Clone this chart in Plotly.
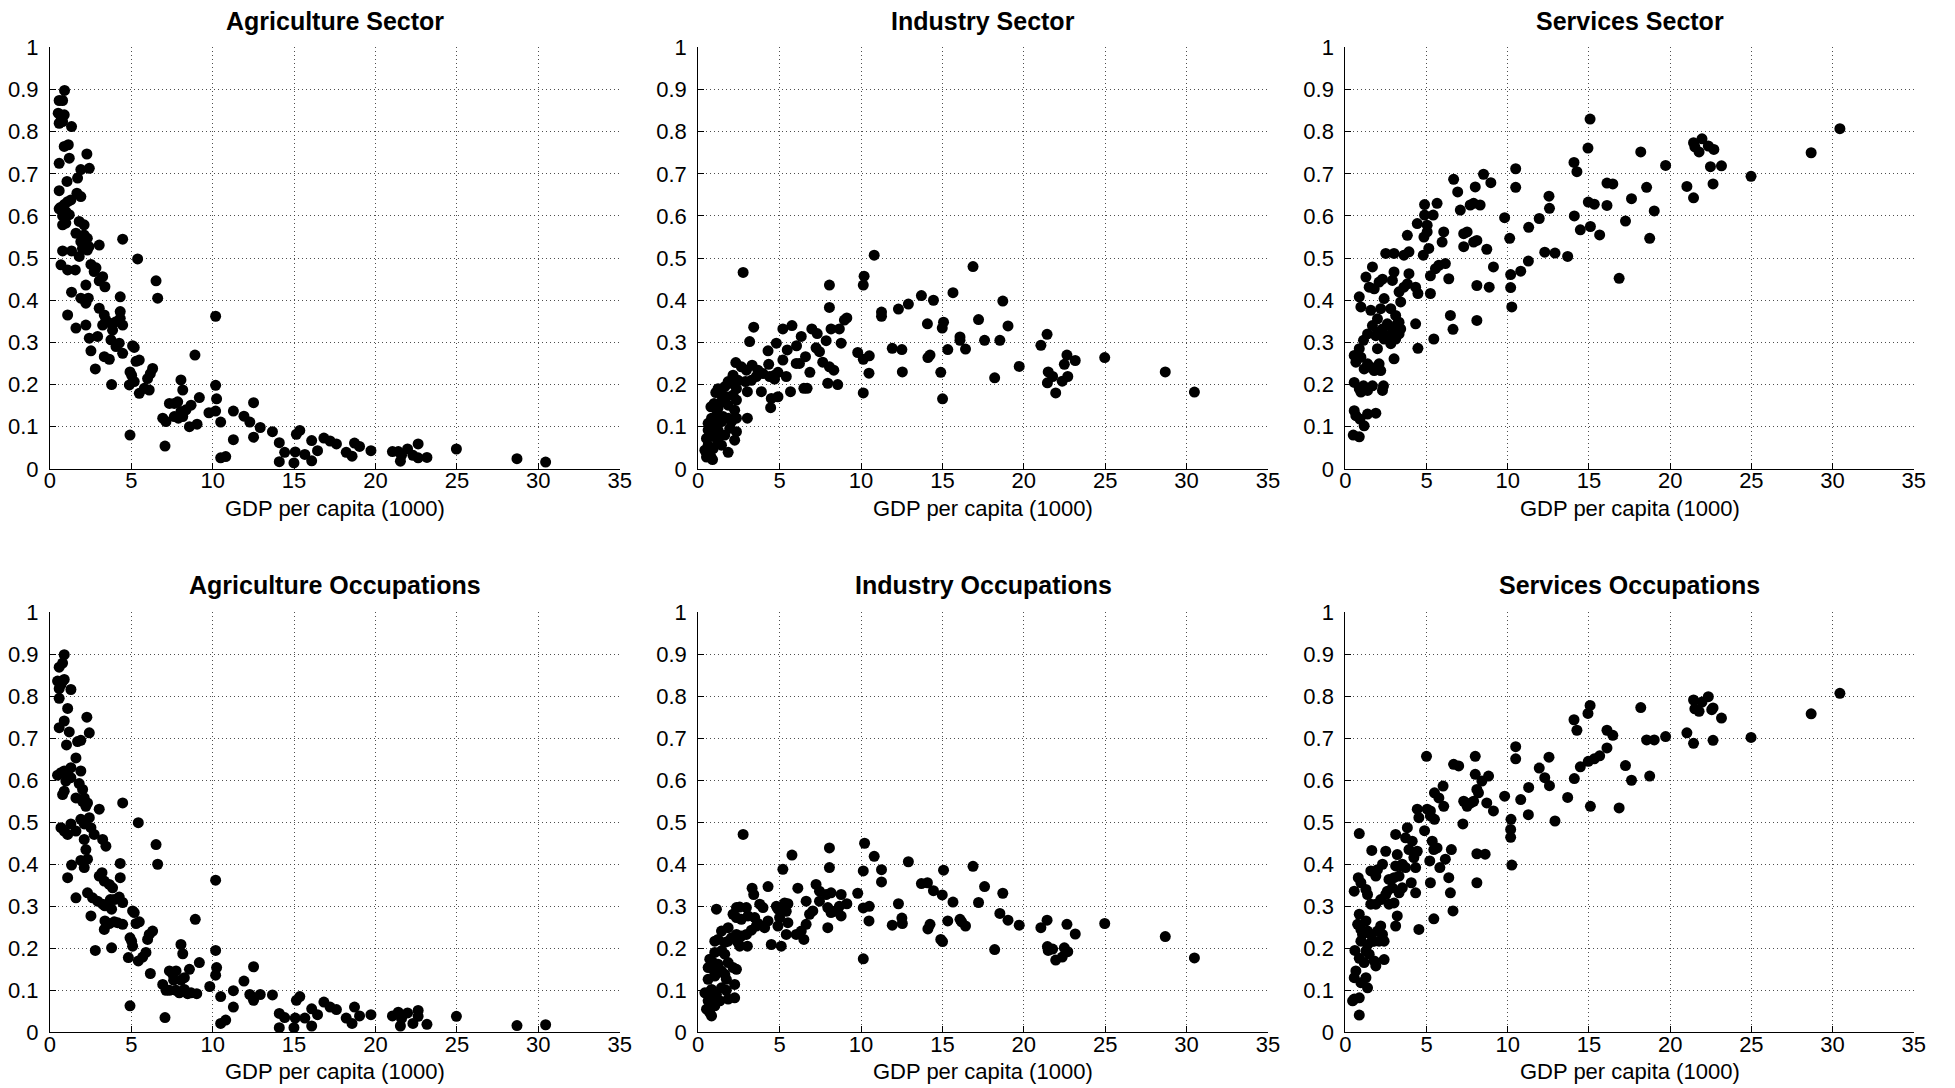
import plotly.graph_objects as go

# ---------------- data: (GDP per capita in 1000s, share) ----------------
agr_sector = [
    (0.9,0.898),(0.57,0.874),(0.78,0.874),(0.51,0.844),(0.88,0.84),(0.68,0.836),(0.57,0.82),(0.78,0.824),
    (1.33,0.812),(0.88,0.765),(1.13,0.769),(1.19,0.737),(0.57,0.725),(2.27,0.747),(1.9,0.71),(2.42,0.713),
    (1.05,0.682),(1.7,0.69),(0.57,0.66),(1.66,0.654),(1.9,0.646),(0.64,0.62),(0.88,0.627),(1.09,0.634),
    (1.29,0.638),(0.98,0.61),(1.19,0.603),(0.78,0.6),(0.57,0.617),(0.78,0.579),(0.98,0.583),(1.8,0.587),
    (2.1,0.579),(1.6,0.559),(2.1,0.555),(2.3,0.547),(1.9,0.539),(2.2,0.535),(2.4,0.527),(2.0,0.523),
    (2.3,0.519),(3.03,0.531),(4.47,0.545),(0.78,0.517),(1.33,0.517),(1.8,0.504),(0.68,0.484),(1.09,0.472),
    (1.56,0.472),(2.52,0.485),(2.83,0.477),(2.72,0.468),(3.24,0.456),(3.03,0.446),(3.38,0.432),(2.21,0.436),
    (5.39,0.498),(6.52,0.446),(6.62,0.405),(1.33,0.419),(1.9,0.405),(2.36,0.405),(4.32,0.408),(2.21,0.393),
    (3.03,0.381),(4.32,0.373),(4.32,0.357),(3.34,0.365),(3.44,0.353),(3.75,0.345),(4.06,0.349),(4.47,0.341),
    (3.24,0.341),(2.21,0.341),(1.09,0.365),(1.6,0.334),(3.85,0.329),(2.42,0.31),(2.93,0.314),(3.75,0.306),
    (4.26,0.298),(4.06,0.29),(5.08,0.292),(5.18,0.288),(2.52,0.28),(3.34,0.266),(3.65,0.26),(4.47,0.274),
    (5.29,0.255),(5.49,0.258),(2.79,0.237),(6.31,0.238),(6.17,0.226),(6.0,0.214),(4.92,0.23),(5.02,0.222),
    (4.88,0.199),(5.18,0.207),(3.79,0.2),(5.49,0.179),(5.8,0.191),(6.1,0.187),(8.05,0.211),(8.16,0.187),
    (8.91,0.27),(9.18,0.169),(7.34,0.155),(7.64,0.155),(7.85,0.159),(8.05,0.136),(8.36,0.14),(8.67,0.151),
    (7.64,0.124),(7.89,0.12),(8.16,0.124),(6.93,0.12),(7.13,0.112),(8.57,0.1),(9.04,0.106),(4.92,0.08),
    (7.07,0.054),
    (10.18,0.362),(9.77,0.133),(10.18,0.198),(10.24,0.166),(10.18,0.137),(10.49,0.111),(10.49,0.026),
    (10.8,0.029),(11.27,0.137),(11.27,0.069),(11.92,0.125),(12.28,0.111),(12.51,0.157),(12.51,0.075),
    (12.92,0.098),(13.67,0.088),(14.09,0.062),(14.09,0.017),(14.42,0.039),(14.99,0.014),(15.07,0.04),
    (15.14,0.082),(15.35,0.091),(15.66,0.034),(16.08,0.067),(16.08,0.019),(16.44,0.043),(16.83,0.073),
    (17.21,0.066),(17.6,0.059),(18.2,0.039),(18.56,0.03),(18.71,0.061),(19.02,0.053),(19.72,0.043),
    (21.04,0.041),(21.4,0.041),(21.53,0.018),(21.6,0.032),(21.97,0.047),(22.3,0.032),(22.62,0.059),
    (22.62,0.026),(23.16,0.027),(24.97,0.047),(28.69,0.024),(30.45,0.016),
]

ind_sector = [
    (2.76,0.466),(8.06,0.436),(8.06,0.383),(3.41,0.336),(3.16,0.302),(5.2,0.332),(5.76,0.34),(6.98,0.332),
    (7.31,0.321),(8.16,0.332),(8.67,0.332),(8.98,0.353),(6.33,0.314),(7.86,0.304),(4.8,0.298),(5.47,0.282),
    (6.04,0.292),(4.29,0.28),(7.24,0.287),(7.45,0.278),(8.78,0.298),(6.59,0.266),(5.2,0.258),(4.33,0.248),
    (6.02,0.25),(6.22,0.25),(7.65,0.253),(8.06,0.242),(8.33,0.234),(6.86,0.229),(2.31,0.252),(2.65,0.242),
    (2.96,0.234),(3.31,0.246),(3.67,0.234),(3.98,0.226),(4.9,0.229),(4.69,0.222),(4.39,0.219),(4.69,0.213),
    (5.41,0.219),(3.57,0.219),(3.27,0.21),(2.9,0.207),(2.45,0.21),(2.14,0.222),(1.94,0.203),(2.35,0.19),
    (3.88,0.183),(3.02,0.183),(4.49,0.167),(4.9,0.171),(5.67,0.183),(6.49,0.191),(6.69,0.191),(7.96,0.203),
    (8.57,0.2),(4.45,0.145),(3.02,0.12),
    (1.63,0.195),(1.84,0.207),(1.22,0.19),(1.08,0.181),(1.43,0.175),(1.73,0.171),(2.14,0.175),(2.35,0.163),
    (1.43,0.159),(0.78,0.147),(0.98,0.155),(1.22,0.144),(1.84,0.151),(2.24,0.139),(1.12,0.127),(0.82,0.12),
    (1.53,0.124),(1.84,0.12),(2.35,0.12),(0.61,0.108),(0.98,0.104),(1.43,0.112),(2.04,0.112),(1.94,0.096),
    (2.35,0.088),(1.22,0.092),(0.61,0.092),(0.51,0.072),(1.02,0.076),(1.63,0.08),(2.24,0.068),(0.61,0.056),
    (0.92,0.048),(1.22,0.064),(0.41,0.044),(0.51,0.028),(0.78,0.028),(1.84,0.039),(1.43,0.056),(0.88,0.022),
    (9.13,0.358),(9.8,0.276),(10.14,0.26),(10.51,0.268),(10.14,0.18),(10.19,0.457),(10.14,0.436),(10.49,0.227),
    (10.81,0.507),(11.26,0.372),(11.26,0.362),(11.92,0.286),(12.3,0.379),(12.51,0.283),(12.54,0.23),
    (12.91,0.391),(13.71,0.411),(14.08,0.344),(14.11,0.264),(14.24,0.27),(14.45,0.4),(14.9,0.229),
    (15.01,0.166),(14.99,0.334),(15.07,0.348),(15.33,0.283),(15.65,0.418),(16.08,0.313),(16.08,0.305),
    (16.42,0.284),(16.88,0.48),(17.22,0.354),(17.59,0.305),(18.21,0.216),(18.53,0.305),(18.71,0.398),
    (19.03,0.339),(19.72,0.243),(21.05,0.293),(21.43,0.319),(21.45,0.204),(21.5,0.23),(21.77,0.219),
    (21.96,0.18),(22.36,0.208),(22.49,0.248),(22.65,0.27),(22.7,0.219),(23.16,0.257),(24.97,0.264),
    (28.69,0.23),(30.48,0.182),
]

serv_sector = [
    (0.49,0.08),(0.86,0.076),(0.55,0.138),(0.65,0.126),(0.9,0.118),(1.16,0.102),(1.37,0.13),(1.88,0.132),
    (0.55,0.205),(0.96,0.182),(0.86,0.19),(1.37,0.186),(1.12,0.197),(2.29,0.186),(2.35,0.197),(1.67,0.197),
    (0.55,0.269),(0.65,0.253),(0.86,0.285),(0.96,0.265),(1.16,0.237),(1.37,0.249),(1.57,0.241),(1.78,0.233),
    (2.08,0.249),(2.18,0.233),(1.98,0.285),(3.0,0.261),(1.12,0.305),(1.37,0.32),(1.88,0.316),(1.98,0.324),
    (1.67,0.34),(2.39,0.308),(2.69,0.316),(2.8,0.297),(3.1,0.308),(3.31,0.32),(3.41,0.332),(3.2,0.344),
    (2.29,0.332),(2.59,0.344),(2.9,0.332),(1.98,0.356),(2.18,0.38),(2.39,0.404),(2.8,0.38),(3.1,0.364),
    (3.31,0.348),(3.31,0.42),(3.61,0.431),(3.82,0.439),(3.41,0.396),(0.86,0.408),(0.96,0.384),(1.57,0.376),
    (1.27,0.455),(1.67,0.479),(1.47,0.431),(1.78,0.427),(2.08,0.443),(2.29,0.45),(2.49,0.511),(3.0,0.511),
    (3.61,0.507),(3.92,0.515),(3.82,0.554),(4.43,0.582),(3.92,0.463),(4.33,0.431),(4.47,0.416),(4.33,0.344),
    (4.47,0.286),(3.0,0.467),(2.9,0.447),(4.88,0.627),(4.88,0.602),(4.84,0.55),(4.8,0.507),(5.04,0.578),
    (5.04,0.562),(5.14,0.523),(5.24,0.458),(5.24,0.416),(5.45,0.308),(5.41,0.602),(5.65,0.63),(6.06,0.562),
    (5.96,0.538),(5.55,0.475),(5.76,0.483),(6.16,0.487),(6.37,0.451),(6.47,0.364),(6.63,0.331),(6.67,0.687),
    (6.92,0.657),(7.08,0.614),(7.29,0.558),(7.5,0.562),(7.29,0.527),(7.69,0.626),(7.9,0.63),(8.0,0.669),
    (7.9,0.538),(8.1,0.542),(8.1,0.435),(8.1,0.352),(8.3,0.626),(8.51,0.699),(8.71,0.521),(8.96,0.679),
    (8.86,0.431),(9.12,0.479),
    (9.81,0.596),(10.12,0.547),(10.18,0.461),(10.18,0.43),(10.25,0.384),(10.49,0.712),(10.49,0.668),
    (10.8,0.469),(11.27,0.493),(11.29,0.573),(11.94,0.594),(12.28,0.514),(12.54,0.647),(12.57,0.618),
    (12.91,0.512),(13.69,0.504),(14.08,0.727),(14.1,0.6),(14.26,0.705),(14.47,0.567),(14.94,0.761),
    (15.07,0.83),(14.96,0.633),(15.09,0.575),(15.33,0.628),(15.66,0.555),(16.11,0.625),(16.11,0.678),
    (16.47,0.676),(16.86,0.452),(17.25,0.588),(17.62,0.641),(18.19,0.752),(18.55,0.668),(18.74,0.547),
    (19.02,0.612),(19.72,0.72),(21.03,0.67),(21.44,0.774),(21.52,0.764),(21.44,0.643),(21.78,0.752),
    (21.96,0.783),(22.35,0.766),(22.69,0.758),(22.48,0.717),(22.64,0.676),(23.16,0.719),(24.98,0.694),
    (28.68,0.75),(30.45,0.807),
]

agr_occup = [
    (0.88,0.899),(0.78,0.879),(0.57,0.869),(0.47,0.836),(0.78,0.836),(0.88,0.84),(0.57,0.818),(0.68,0.828),
    (1.29,0.816),(0.57,0.795),(1.09,0.771),(0.88,0.741),(0.57,0.725),(2.27,0.75),(2.42,0.713),(1.19,0.715),
    (1.02,0.684),(1.7,0.692),(1.9,0.695),(1.6,0.653),(0.47,0.612),(0.68,0.618),(0.88,0.622),(1.09,0.618),
    (1.29,0.63),(0.98,0.598),(1.29,0.606),(1.9,0.622),(0.78,0.566),(0.88,0.574),(1.8,0.592),(2.01,0.578),
    (2.11,0.558),(1.6,0.558),(2.0,0.55),(2.31,0.546),(2.21,0.538),(3.03,0.531),(4.47,0.546),(2.42,0.511),
    (1.9,0.507),(2.11,0.496),(1.29,0.496),(0.68,0.487),(0.88,0.479),(1.09,0.471),(1.6,0.479),(2.52,0.487),
    (2.72,0.471),(5.43,0.499),(3.24,0.459),(3.44,0.443),(2.11,0.459),(2.21,0.435),(6.52,0.447),(6.62,0.4),
    (4.32,0.402),(1.33,0.398),(1.9,0.409),(2.31,0.412),(2.11,0.392),(3.03,0.372),(3.2,0.38),(3.34,0.36),
    (3.65,0.352),(3.85,0.344),(4.32,0.368),(1.09,0.368),(1.6,0.32),(2.31,0.332),(2.62,0.32),(2.93,0.312),
    (3.24,0.305),(3.38,0.301),(3.71,0.316),(3.95,0.316),(4.26,0.322),(4.47,0.309),(3.79,0.293),(2.52,0.277),
    (3.38,0.265),(3.65,0.259),(3.95,0.263),(4.16,0.261),(4.47,0.257),(5.08,0.289),(5.18,0.285),(5.29,0.259),
    (5.49,0.263),(3.34,0.245),(8.93,0.269),(6.31,0.241),(6.1,0.233),(6.0,0.221),(4.92,0.225),(5.02,0.217),
    (5.08,0.205),(2.79,0.195),(3.79,0.201),(4.82,0.178),(5.43,0.17),(5.7,0.179),(5.9,0.19),(6.17,0.14),
    (8.05,0.209),(8.16,0.187),(9.18,0.166),(7.34,0.146),(7.54,0.138),(7.75,0.146),(8.05,0.124),(8.26,0.13),
    (8.57,0.15),(7.6,0.124),(6.93,0.114),(7.13,0.1),(7.34,0.1),(7.75,0.1),(7.95,0.094),(8.26,0.102),
    (8.46,0.092),(8.67,0.094),(9.02,0.092),(4.92,0.063),(7.07,0.035),
    (10.18,0.362),(9.82,0.109),(10.18,0.195),(10.24,0.154),(10.18,0.136),(10.49,0.085),(10.49,0.021),
    (10.8,0.029),(11.27,0.099),(11.27,0.06),(11.92,0.122),(12.28,0.09),(12.51,0.156),(12.51,0.076),
    (12.92,0.09),(13.67,0.089),(14.09,0.045),(14.09,0.011),(14.42,0.035),(14.99,0.011),(15.07,0.034),
    (15.14,0.076),(15.35,0.085),(15.66,0.034),(16.08,0.056),(16.08,0.015),(16.44,0.042),(16.83,0.072),
    (17.21,0.06),(17.6,0.054),(18.2,0.034),(18.56,0.021),(18.71,0.06),(19.02,0.039),(19.72,0.042),
    (21.04,0.039),(21.4,0.048),(21.53,0.015),(21.6,0.033),(21.97,0.046),(22.3,0.021),(22.62,0.052),
    (22.62,0.038),(23.16,0.019),(24.97,0.038),(28.69,0.016),(30.45,0.018),
]

ind_occup = [
    (2.76,0.471),(8.06,0.439),(8.06,0.392),(5.76,0.422),(5.2,0.388),(4.29,0.347),(3.31,0.343),(3.41,0.328),
    (1.12,0.293),(2.35,0.297),(2.55,0.298),(2.96,0.297),(3.78,0.305),(3.98,0.297),(3.06,0.277),(2.65,0.269),
    (2.14,0.281),(2.35,0.273),(3.47,0.273),(3.67,0.259),(4.29,0.265),(4.8,0.3),(4.9,0.293),(5.31,0.308),
    (5.51,0.306),(5.41,0.288),(5.0,0.273),(5.51,0.261),(4.9,0.253),(4.08,0.249),(3.27,0.243),(3.57,0.253),
    (2.96,0.233),(2.65,0.229),(2.35,0.233),(2.04,0.225),(1.84,0.249),(1.43,0.241),(1.22,0.221),(1.02,0.217),
    (1.63,0.214),(1.84,0.217),(2.45,0.214),(2.55,0.205),(3.02,0.205),(4.49,0.209),(5.1,0.205),(5.41,0.233),
    (6.02,0.233),(6.33,0.241),(6.63,0.257),(6.84,0.281),(7.04,0.289),(6.49,0.221),(6.12,0.343),(6.63,0.312),
    (7.24,0.352),(7.45,0.336),(7.45,0.312),(7.86,0.328),(8.16,0.332),(7.96,0.297),(8.16,0.285),(7.96,0.249),
    (8.37,0.288),(8.67,0.3),(8.78,0.328),(8.78,0.277),(1.63,0.186),(1.43,0.194),(1.02,0.19),(0.71,0.174),
    (0.92,0.166),(0.61,0.154),(0.92,0.15),(1.22,0.162),(1.84,0.166),(2.14,0.154),(2.35,0.15),(1.43,0.146),
    (1.63,0.138),(0.61,0.126),(1.02,0.134),(1.73,0.126),(2.24,0.114),(1.43,0.106),(0.82,0.102),(1.73,0.1),
    (0.41,0.094),(0.61,0.094),(1.12,0.09),(2.24,0.082),(1.84,0.079),(1.33,0.075),(0.61,0.075),(1.02,0.063),
    (0.51,0.055),(0.71,0.047),(0.82,0.039),(0.86,0.075),
    (9.13,0.306),(9.8,0.331),(10.14,0.384),(10.22,0.45),(10.14,0.296),(10.51,0.3),(10.14,0.175),(10.49,0.265),
    (10.81,0.419),(11.26,0.387),(11.26,0.358),(11.92,0.255),(12.3,0.306),(12.51,0.272),(12.54,0.259),
    (12.91,0.406),(13.71,0.354),(14.08,0.356),(14.11,0.246),(14.24,0.257),(14.45,0.337),(14.9,0.221),
    (15.01,0.216),(14.99,0.327),(15.07,0.386),(15.33,0.265),(15.65,0.31),(16.08,0.269),(16.18,0.263),
    (16.42,0.253),(16.88,0.395),(17.22,0.309),(17.59,0.347),(18.21,0.197),(18.53,0.283),(18.71,0.331),
    (19.03,0.267),(19.72,0.255),(21.05,0.249),(21.43,0.267),(21.45,0.204),(21.5,0.195),(21.77,0.198),
    (21.96,0.172),(22.36,0.179),(22.49,0.201),(22.65,0.257),(22.7,0.192),(23.16,0.234),(24.97,0.259),
    (28.69,0.228),(30.48,0.177),
]

serv_occup = [
    (0.86,0.041),(0.55,0.079),(0.45,0.075),(0.86,0.082),(0.55,0.13),(0.65,0.146),(0.96,0.118),(1.27,0.13),
    (1.37,0.106),(0.59,0.195),(0.86,0.176),(1.16,0.166),(1.27,0.193),(1.47,0.186),(1.78,0.17),(1.88,0.158),
    (2.39,0.173),(0.86,0.281),(0.76,0.257),(0.96,0.245),(1.06,0.233),(1.27,0.265),(1.37,0.241),(1.57,0.233),
    (1.78,0.217),(1.98,0.241),(2.18,0.253),(2.29,0.233),(2.08,0.217),(2.39,0.217),(1.37,0.209),(1.67,0.217),
    (0.96,0.217),(3.1,0.253),(3.2,0.277),(0.55,0.336),(0.8,0.368),(0.96,0.356),(1.27,0.34),(1.37,0.328),
    (1.57,0.384),(1.88,0.372),(0.86,0.473),(1.63,0.433),(1.57,0.305),(1.88,0.305),(2.18,0.316),(2.49,0.328),
    (2.69,0.305),(3.0,0.308),(2.59,0.336),(2.9,0.344),(3.31,0.332),(3.51,0.344),(1.98,0.387),(2.29,0.4),
    (2.49,0.431),(2.69,0.364),(3.0,0.368),(3.1,0.396),(3.31,0.372),(3.41,0.396),(3.2,0.423),(3.51,0.4),
    (3.71,0.392),(3.1,0.471),(3.82,0.487),(3.71,0.463),(4.12,0.455),(3.92,0.435),(4.22,0.416),(4.43,0.431),
    (4.33,0.392),(4.33,0.332),(4.53,0.245),(4.06,0.356),(5.0,0.657),(4.88,0.48),(5.04,0.531),(5.24,0.527),
    (5.24,0.515),(5.49,0.507),(4.43,0.531),(4.53,0.511),(5.2,0.408),(5.24,0.356),(5.45,0.27),(5.45,0.435),
    (5.35,0.455),(5.65,0.439),(5.49,0.57),(5.76,0.558),(6.06,0.538),(6.02,0.586),(6.37,0.368),(6.53,0.435),
    (5.82,0.392),(6.47,0.332),(6.63,0.289),(6.16,0.412),(6.67,0.638),(6.98,0.634),(7.24,0.496),(7.29,0.55),
    (7.5,0.538),(7.73,0.546),(8.0,0.657),(8.0,0.614),(8.1,0.578),(8.2,0.57),(7.9,0.55),(8.1,0.425),
    (8.1,0.356),(8.41,0.598),(8.82,0.61),(8.71,0.546),(8.61,0.424),(9.12,0.527),
    (9.81,0.562),(10.2,0.507),(10.18,0.483),(10.18,0.464),(10.25,0.398),(10.49,0.68),(10.49,0.651),
    (10.8,0.554),(11.27,0.518),(11.29,0.583),(11.94,0.629),(12.28,0.606),(12.54,0.655),(12.57,0.587),
    (12.91,0.503),(13.69,0.559),(14.08,0.744),(14.1,0.604),(14.26,0.719),(14.47,0.632),(14.94,0.759),
    (15.07,0.778),(14.96,0.645),(15.09,0.538),(15.33,0.651),(15.66,0.658),(16.11,0.677),(16.11,0.719),
    (16.47,0.707),(16.86,0.534),(17.25,0.635),(17.62,0.6),(18.19,0.773),(18.55,0.696),(18.74,0.61),
    (19.02,0.696),(19.72,0.704),(21.03,0.713),(21.44,0.791),(21.52,0.77),(21.44,0.688),(21.78,0.764),
    (21.96,0.786),(22.35,0.799),(22.56,0.768),(22.64,0.772),(22.64,0.695),(23.16,0.748),(24.98,0.702),
    (28.68,0.758),(30.45,0.807),
]

panel_titles = ["Agriculture Sector", "Industry Sector", "Services Sector",
                "Agriculture Occupations", "Industry Occupations", "Services Occupations"]
panel_data = [agr_sector, ind_sector, serv_sector, agr_occup, ind_occup, serv_occup]
x_label = "GDP per capita (1000)"
x_ticks = [0, 5, 10, 15, 20, 25, 30, 35]
y_ticks = [0, 0.1, 0.2, 0.3, 0.4, 0.5, 0.6, 0.7, 0.8, 0.9, 1]

# ---------------- layout geometry ----------------
W, H = 1955, 1088
col_px = [(49.9, 619.7), (698.2, 1268.0), (1345.3, 1913.8)]
row_px = [(47.4, 468.8), (612.2, 1032.3)]
title_y_px = [21.2, 584.8]
xlabel_y_px = [508.7, 1071.0]

FONT = "Liberation Sans, Arial, Helvetica, sans-serif"
fig = go.Figure()
annotations = []
layout_axes = {}

for i, (title, pts) in enumerate(zip(panel_titles, panel_data)):
    r, c = divmod(i, 3)
    n = i + 1
    xa = "x" if n == 1 else f"x{n}"
    ya = "y" if n == 1 else f"y{n}"
    xs = [p[0] for p in pts]
    ys = [p[1] for p in pts]
    fig.add_trace(go.Scatter(
        x=xs, y=ys, mode="markers", xaxis=xa, yaxis=ya, showlegend=False,
        marker=dict(color="black", size=11, line=dict(width=0)),
        hoverinfo="x+y",
    ))
    x0, x1 = col_px[c]
    y0, y1 = row_px[r]
    common = dict(
        showline=True, linecolor="black", linewidth=1, mirror=False,
        ticks="inside", ticklen=6, tickwidth=1, tickcolor="black",
        showgrid=True, gridcolor="rgba(60,60,60,0.9)", gridwidth=1, griddash="1px,3px",
        zeroline=False, automargin=False,
        tickfont=dict(family=FONT, size=22, color="black"),
    )
    layout_axes["xaxis" if n == 1 else f"xaxis{n}"] = dict(
        common, domain=[x0 / W, x1 / W], range=[0, 35], tickvals=x_ticks,
        anchor=ya, ticklabelstandoff=-8,
    )
    layout_axes["yaxis" if n == 1 else f"yaxis{n}"] = dict(
        common, domain=[1 - y1 / H, 1 - y0 / H], range=[0, 1], tickvals=y_ticks,
        anchor=xa, ticklabelstandoff=6,
    )
    cx = (x0 + x1) / 2 / W
    annotations.append(dict(
        text=f"<b>{title}</b>", x=cx, y=1 - title_y_px[r] / H, xref="paper", yref="paper",
        xanchor="center", yanchor="middle", showarrow=False,
        font=dict(family=FONT, size=25, color="black"),
    ))
    annotations.append(dict(
        text=x_label, x=cx, y=1 - xlabel_y_px[r] / H, xref="paper", yref="paper",
        xanchor="center", yanchor="middle", showarrow=False,
        font=dict(family=FONT, size=22, color="black"),
    ))

fig.update_layout(
    width=W, height=H, margin=dict(l=0, r=0, t=0, b=0, pad=0, autoexpand=False),
    paper_bgcolor="white", plot_bgcolor="white",
    annotations=annotations, **layout_axes,
)

fig.write_html(
    "out.html",
    config={"displayModeBar": False},
    post_script=(
        "document.documentElement.style.margin='0';"
        "document.body.style.margin='0';document.body.style.padding='0';"
        "document.documentElement.style.overflow='hidden';document.body.style.overflow='hidden';"
    ),
)
